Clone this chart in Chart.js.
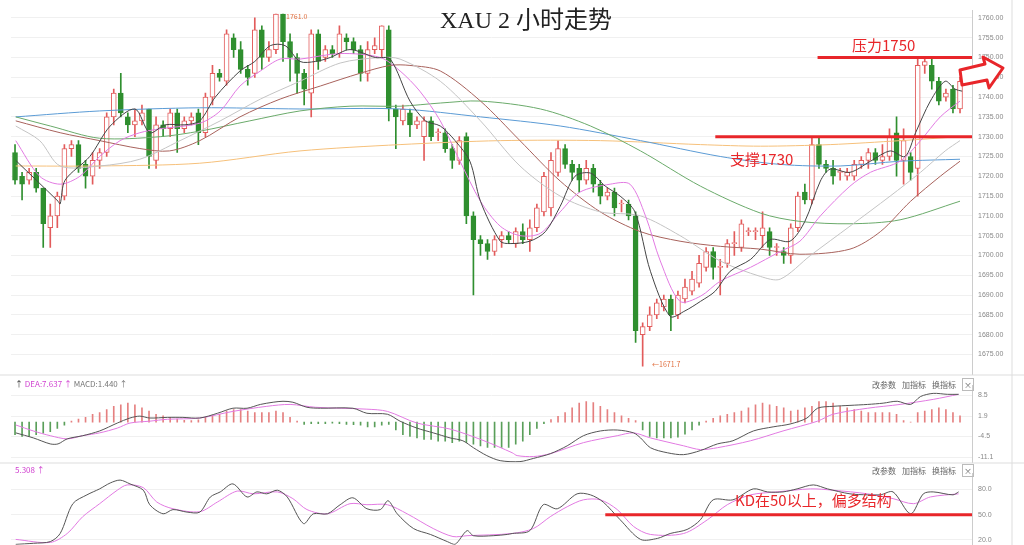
<!DOCTYPE html>
<html>
<head>
<meta charset="utf-8">
<script src="https://cdn.jsdelivr.net/npm/chart.js@4/dist/chart.umd.min.js"></script>
<style>
  body { margin: 0; background: #fff; width: 1024px; height: 545px; overflow: hidden; position: relative; font-family: "Noto Sans CJK SC", "Noto Sans", sans-serif; }
  canvas { position: absolute; left: 0; }
  .t { position: absolute; white-space: nowrap; }
  .red { color: #e8262a; font-size: 15px; }
  .small { font-size: 8px; color: #777; }
  .btn { position: absolute; font-size: 8px; color: #666; left: 872px; }
  .btn span { margin-right: 6px; }
  .btn b { font-weight: normal; border: 1px solid #bbb; padding: 0 1px; }
</style>
</head>
<body>
<canvas id="mainChart" width="1024" height="385" style="top:0"></canvas>
<canvas id="macdChart" width="1024" height="98" style="top:375px"></canvas>
<canvas id="kdChart" width="1024" height="92" style="top:463px"></canvas>

<div class="t" style="left:440px;top:0px;font-size:24px;color:#222;font-family:'Liberation Serif','Noto Sans CJK SC',serif;">XAU 2 小时走势</div>
<div class="t red" style="left:852px;top:34px;">压力1750</div>
<div class="t red" style="left:730px;top:148px;">支撑1730</div>
<div class="t red" style="left:735px;top:489px;">KD在50以上，偏多结构</div>
<div class="t" style="left:286px;top:11px;font-size:7px;color:#e07040;">1761.0</div>
<div class="t" style="left:652px;top:359px;font-size:7px;color:#e07040;">←1671.7</div>
<div class="t small" style="left:15px;top:378px;"><span style="color:#333">↑</span> <span style="color:#d040d0">DEA:7.637</span> <span style="color:#d040d0">↑</span> MACD:1.440 ↑</div>
<div class="t small" style="left:15px;top:464px;color:#d040d0;">5.308 ↑</div>
<div class="btn" style="top:379px;"><span>改参数</span><span>加指标</span><span>换指标</span><b>×</b></div>
<div class="btn" style="top:465px;"><span>改参数</span><span>加指标</span><span>换指标</span><b>×</b></div>
<svg style="position:absolute;left:0;top:0" width="1024" height="545">
  <line x1="0" y1="375" x2="1024" y2="375" stroke="#ddd"/>
  <line x1="0" y1="463" x2="1024" y2="463" stroke="#ddd"/>
  <line x1="1012" y1="0" x2="1012" y2="545" stroke="#ddd"/>
  <polygon points="960,70 985,64 983,57 1003,68 989,88 987,80 962,85" fill="#fff" stroke="#e8262a" stroke-width="3" stroke-linejoin="round"/>
</svg>

<script>
// K线数据
const opens  = [1726,1720,1719,1721,1717,1707,1710,1715,1727,1728,1723,1720,1724,1726,1735,1741,1735,1733,1734,1737,1724,1733,1732,1736,1732,1734,1736,1731,1740,1746,1744,1755,1752,1747,1746,1757,1750,1752,1761,1754,1750,1746,1741,1756,1750,1752,1751,1755,1754,1752,1746,1752,1752,1757,1737,1734,1736,1733,1730,1734,1731,1731,1727,1724,1730,1710,1704,1703,1701,1704,1705,1703,1706,1704,1707,1711,1712,1721,1727,1723,1722,1719,1722,1718,1715,1716,1713,1713,1710,1680,1682,1685,1687,1689,1685,1689,1691,1693,1697,1701,1697,1698,1703,1702,1706,1706,1705,1706,1702,1701,1700,1707,1716,1714,1728,1723,1722,1721,1720,1720,1723,1724,1726,1724,1725,1731,1724,1725,1722,1748,1748,1744,1740,1742,1737];
const closes = [1719,1718,1721,1717,1708,1710,1715,1727,1728,1722,1720,1724,1726,1735,1741,1736,1733,1734,1736,1725,1733,1732,1736,1732,1734,1735,1731,1740,1746,1745,1756,1752,1747,1745,1757,1750,1752,1761,1754,1750,1746,1742,1756,1749,1752,1751,1756,1754,1752,1746,1752,1753,1758,1737,1735,1737,1733,1734,1734,1730,1731,1727,1724,1729,1710,1704,1703,1701,1704,1705,1704,1706,1704,1707,1712,1720,1724,1727,1723,1721,1719,1722,1718,1715,1716,1712,1713,1710,1681,1682,1685,1688,1689,1685,1690,1692,1694,1698,1701,1697,1697,1703,1703,1708,1706,1706,1707,1702,1702,1700,1707,1715,1714,1728,1723,1722,1720,1721,1721,1723,1724,1726,1724,1725,1730,1724,1729,1721,1748,1749,1744,1739,1741,1737,1744];
const highs  = [1728,1721,1722,1722,1717,1713,1716,1728,1729,1729,1724,1726,1727,1736,1742,1746,1736,1737,1738,1737,1735,1734,1737,1737,1735,1736,1737,1741,1748,1747,1757,1756,1754,1748,1760,1758,1754,1761,1761,1756,1751,1747,1757,1757,1753,1753,1758,1756,1755,1753,1754,1755,1758,1758,1738,1738,1737,1735,1735,1735,1732,1732,1728,1730,1731,1711,1705,1704,1705,1706,1706,1707,1708,1709,1713,1721,1726,1729,1728,1724,1723,1724,1723,1719,1717,1717,1714,1714,1711,1683,1687,1689,1690,1690,1691,1694,1696,1700,1702,1702,1699,1704,1706,1709,1707,1707,1711,1707,1703,1702,1708,1716,1718,1730,1730,1724,1724,1722,1722,1724,1725,1727,1727,1728,1732,1735,1732,1726,1750,1750,1750,1745,1742,1743,1745];
const lows   = [1718,1714,1718,1716,1702,1702,1707,1714,1725,1721,1717,1718,1722,1725,1733,1735,1731,1730,1733,1722,1722,1730,1730,1726,1731,1733,1728,1730,1738,1744,1743,1750,1746,1743,1745,1747,1749,1751,1749,1744,1741,1738,1735,1747,1749,1750,1750,1752,1751,1744,1744,1751,1750,1734,1727,1733,1730,1732,1724,1729,1729,1726,1722,1723,1708,1690,1700,1699,1700,1702,1703,1702,1703,1701,1706,1710,1710,1720,1722,1719,1716,1718,1716,1713,1714,1710,1711,1709,1678,1672,1681,1684,1686,1681,1684,1688,1690,1692,1696,1694,1690,1697,1700,1701,1705,1704,1702,1700,1700,1698,1698,1706,1713,1713,1722,1721,1718,1719,1719,1719,1722,1722,1723,1723,1724,1720,1718,1719,1715,1746,1742,1738,1739,1736,1736];
const priceTicks = [1675,1680,1685,1690,1695,1700,1705,1710,1715,1720,1725,1730,1735,1740,1745,1750,1755,1760];

// 均线 [序号, 价格]
const ma5 = [[0.1,1724],[6.1,1713.7],[6.4,1713],[7.1,1719],[10.6,1725],[13.5,1732.7],[17,1737],[19.1,1731],[21.3,1733],[24.1,1733],[26.2,1734],[28.4,1740],[31.9,1746.6],[34,1749],[36.2,1753],[38.3,1753],[40.4,1749],[42.6,1749],[44.7,1750],[47.5,1752],[51.1,1750],[53.2,1749.6],[56,1739],[58.2,1734],[60.3,1732.7],[62.4,1729],[64.5,1723.8],[66,1713.7],[68.8,1703.6],[70.2,1703],[73,1703.6],[75.2,1706],[77.3,1712.4],[79.4,1720],[81.6,1720.8],[83.7,1717.5],[85.8,1715],[87.9,1711],[90.1,1696],[92.9,1684.6],[95,1686],[97.2,1688.4],[99.3,1691],[101.4,1696],[104.3,1699],[107.1,1704],[109.9,1703.6],[112,1708.6],[114.2,1718.8],[115.6,1721.8],[118.4,1721],[121.3,1723.8],[124.1,1726.4],[126.2,1725],[127.7,1731],[129.8,1739],[131.9,1744],[133.3,1742],[134.3,1741.5]];
const ma10 = [[0.1,1729],[3.5,1720],[6.4,1718],[9.2,1720],[12,1725],[14.9,1729],[17.7,1731],[20.6,1732],[26.2,1733.4],[29.1,1736.5],[31.9,1742.8],[34.8,1746.6],[37.6,1749.6],[40.4,1749.6],[46.1,1751],[51.8,1750],[54.6,1746.6],[57.4,1741.5],[60.3,1734],[63.1,1723.8],[66,1713.7],[68.8,1707.4],[71.6,1705],[74.5,1705.6],[77.3,1711],[80.1,1716],[84.4,1718],[87.2,1718],[89.4,1710],[91.5,1698.6],[94.3,1688.4],[97.2,1689.7],[100,1693.5],[104.3,1697],[108.5,1701],[111.3,1703.6],[114.2,1710],[118.4,1717.5],[121.3,1721],[125.5,1723.8],[128.4,1729],[131.2,1735],[134,1739]];
const ma20 = [[0.1,1732.7],[3.5,1729],[6.4,1722.6],[12,1722.6],[17.7,1724.3],[23.4,1729],[29.1,1734],[34.8,1739.5],[40.4,1744],[46.1,1748.6],[51.8,1750],[54.6,1749.6],[60.3,1744],[66,1734],[71.6,1722.6],[77.3,1715],[83,1711],[88.7,1710],[94.3,1705],[100,1698.6],[105.7,1694.7],[108.5,1694],[112.8,1700],[118.4,1707.4],[124.1,1715],[128.4,1721],[131.9,1726.4],[134,1729]];
const ma30 = [[0.1,1734],[6.4,1731],[12,1729],[17.7,1727],[21.9,1726.4],[26.2,1729],[31.9,1735],[37.6,1739.5],[43.3,1742.8],[48.9,1746],[53.2,1748],[56,1748],[60.3,1746.6],[66,1739],[71.6,1729],[77.3,1718.8],[83,1711],[88.7,1706],[94.3,1703.6],[100,1702.3],[105.7,1701.6],[111.3,1700.3],[118.4,1701.6],[122.7,1706],[127,1713.7],[131.2,1720],[134,1723.8]];
const ma60 = [[0.1,1735],[5,1732.7],[12,1729.6],[20.6,1730],[26.2,1731.4],[33.3,1734],[40.4,1736.5],[47.5,1737.7],[54.6,1737.7],[60.3,1738.5],[66,1739],[74.5,1737],[81.6,1732.7],[88.7,1726.4],[97.2,1717.5],[105.7,1710.7],[111.3,1708.6],[118.4,1708],[125.5,1709],[134,1713.7]];
const ma120 = [[0.1,1735],[12,1736.5],[26.2,1737.3],[40.4,1737],[54.6,1737],[66,1735],[77.3,1732.7],[88.7,1729],[100,1725],[108.5,1723],[117,1722.6],[125.5,1723.8],[134,1724.3]];
const ma250 = [[0.1,1722.6],[12,1722.6],[26.2,1723.3],[40.4,1726.4],[54.6,1728],[68.8,1729],[83,1729],[97.2,1728],[105.7,1727.6],[115.6,1728],[125.5,1729],[134,1730]];
const supportLine = [[99.3,1730],[135.7,1730]];
const pressureLine = [[113.8,1750],[135.7,1750]];

// MACD
const macdHist = [-4,-4.5,-4.5,-4,-3.5,-3,-2,-1,0.3,1,1.5,2.5,3,4,5,5.5,6,5.5,4.5,3.5,2.5,2,1.5,1,0.6,0.5,0.7,1.5,2,2.5,3.5,4,4,3.5,3,3,3,3.5,3,1.5,0.3,-0.7,-0.5,-0.5,-0.5,-0.3,-0.5,-0.7,-0.8,-1,-1.5,-1.5,-1,-0.7,-2.5,-4,-4.5,-5,-5.5,-5.5,-6,-6,-6.5,-6,-6.5,-7,-7.5,-8,-8,-8,-8,-7,-6,-4,-2,-0.5,0.8,1.8,3,4.5,6,6.5,6.2,5,4,3,2,1.2,0.5,-2.5,-4.5,-5,-5,-5,-4.8,-3.8,-2.5,-1,0.3,1.2,2,2.5,3,3.5,4.5,5.5,6,5.5,5,4.5,3.5,3.8,4.5,5,6.5,6.5,6,5,4.5,4,3.5,3,3,3,3,2.5,0.5,0,3,3.5,4,4.5,4,3,2];
const difLine = [[0.1,-3.4],[2.6,-5],[5,-6.9],[6.1,-6.9],[7.4,-5.3],[9.6,-4.3],[12,-2.8],[14.5,-0.3],[16.3,1.3],[17.7,1.9],[19.1,1.3],[21.6,1.5],[23.8,1.5],[26.2,1.3],[28.7,2.8],[30.9,4.4],[32.9,4.4],[34.8,5.6],[36.6,6.3],[38,6.6],[39.4,6.3],[41.4,4.7],[43.3,4.4],[47.9,4.4],[49.9,2.8],[52.8,2.5],[54.6,0.3],[57,-1.9],[59.3,-3.4],[61.7,-5],[63.5,-5.9],[65,-8.1],[66.9,-10.6],[68.8,-12.2],[71.6,-12.5],[73.5,-11.5],[75.9,-10],[78.3,-7.5],[80.6,-4.3],[83,-2.8],[85.4,-2.5],[87.7,-3.4],[88.7,-5],[90.1,-8.1],[92.5,-9.7],[94.8,-10.3],[97.2,-9],[99.6,-6.9],[101.8,-5.9],[104.7,-2.8],[107.5,-1.5],[109.9,-0.6],[112.3,1.3],[113.8,4.4],[116,5],[118.4,5.3],[120.9,5.6],[123.1,6],[125.1,6.6],[127,5.6],[128.4,8.1],[130.2,9.1],[132.2,8.8],[133.8,8.8]];
const deaLine = [[0.1,-0.9],[2.6,-2.8],[5,-4.3],[7.4,-5.3],[9.6,-4.3],[12,-3.4],[14.5,-1.9],[16.3,-0.3],[19.1,0.3],[21.6,0.9],[26.2,1.3],[30.9,3.4],[35.7,5],[39,5.6],[42.6,4.7],[49.9,4.1],[52.8,3.4],[57,-0.3],[61.7,-2.2],[66.5,-5.9],[70.5,-9.7],[71.2,-10.6],[73.5,-10.9],[75.9,-10],[80.6,-6.5],[85.4,-4.3],[87.7,-3.4],[90.1,-5],[94.8,-7.5],[97.2,-8.7],[99.6,-8.1],[104.3,-5.9],[108.9,-2.8],[113.8,0.3],[116,2.5],[120.9,4.4],[125.5,5.6],[130.2,7.2],[133.8,8.8]];
const macdTicks = [-11.1,-4.5,1.9,8.5];

// KD
const kLine = [[0.1,14.7],[2.6,16],[5,18],[6.4,27.6],[8.2,63],[10.2,73.5],[12,80.6],[13.5,87.6],[14.9,91],[16.3,86.5],[18.2,79],[19.1,61.8],[21,51],[22.4,56],[24.4,53],[26.2,53],[27.7,71],[29.1,77],[30.9,86.5],[32.9,71],[34.3,77],[35.7,74.7],[37.2,79],[38.6,71],[40.9,39.4],[42.3,51],[44.3,51],[46.1,61.8],[47.9,70],[49.9,57],[51.8,56],[52.9,66.5],[54.2,51],[56.5,33.5],[58.9,26.5],[61.3,18],[62.4,14.7],[64.1,31],[65,25],[67.8,25],[69.8,26.5],[70.5,27.6],[73,31],[74.9,61.8],[76.9,57],[79.7,74.7],[81.6,73.5],[83.4,65],[85.8,44],[88.7,20.6],[91.1,21.8],[92.9,27.6],[95.3,32.4],[97.2,44],[99,67.6],[101.8,67.6],[104.7,80.6],[106.7,77],[108.9,77],[110.9,80.6],[113.2,85.3],[115.2,80.6],[118.4,74.7],[120.9,73.5],[122.7,73.5],[124.5,77],[127,51],[128.8,74.7],[130.2,77],[133,73.5],[133.8,77]];
const dLine = [[0.1,20.6],[5,17],[7.4,27.6],[9.6,47.6],[12,63],[14.5,79],[15.9,85.3],[18.2,82],[20.1,65],[22.4,57],[26.2,53.5],[28.7,65],[31.5,78],[33.8,74.7],[37.2,77],[39.4,69],[41.4,56],[44.3,51],[47.5,63],[49.9,61.8],[52.8,61.8],[55.6,51],[59.3,33.5],[62.1,24],[64.1,25],[70.5,27.6],[73.5,33.5],[75.9,47.6],[78.3,59.4],[80.6,67.6],[83,67.6],[85.4,56],[87.7,36],[90.1,26.5],[94.8,27.6],[98.2,44],[101,61.8],[104.3,73.5],[108.1,77],[112.8,80.6],[116,79],[120.9,74.7],[124.5,69],[127.4,63],[129.8,71],[133.8,74.7]];
const kdLine50 = [[83.7,50],[135.7,50]];
const kdTicks = [20,50,80];

const X_MIN = -0.57, X_MAX = 135.7;
const UP = '#e25b5b', DOWN = '#2f8f2f';

function pts(arr) { return arr.map(p => ({ x: p[0], y: p[1] })); }
function lineDs(arr, color, width) {
  return { type: 'line', data: pts(arr), borderColor: color, borderWidth: width || 1, pointRadius: 0, tension: 0.3, order: 1 };
}
function yAxis(min, max, ticks, digits) {
  return {
    position: 'right', min: min, max: max,
    afterFit: s => { s.width = 52; },
    afterBuildTicks: s => { s.ticks = ticks.map(v => ({ value: v })); },
    grid: { color: '#f0f0f0', drawTicks: false },
    border: { display: true, color: '#ccc' },
    ticks: { padding: 6, color: '#888', font: { size: 7 }, callback: v => v.toFixed(digits) }
  };
}
const xAxis = { type: 'linear', min: X_MIN, max: X_MAX, offset: false, display: false };
const base = { responsive: false, animation: false, plugins: { legend: { display: false }, tooltip: { enabled: false } } };

// 主图
const isUp = opens.map((o, i) => closes[i] >= o);
new Chart(document.getElementById('mainChart'), {
  type: 'bar',
  data: {
    datasets: [
      lineDs(supportLine, '#e8262a', 3),
      lineDs(pressureLine, '#e8262a', 3),
      lineDs(ma5, '#444'),
      lineDs(ma10, '#e27ae2'),
      lineDs(ma20, '#c4c4c4'),
      lineDs(ma30, '#a8625c'),
      lineDs(ma60, '#6aaa6a'),
      lineDs(ma120, '#5b9bd5'),
      lineDs(ma250, '#f6c07a'),
      {
        data: opens.map((o, i) => ({ x: i, y: [o, closes[i]] })),
        backgroundColor: isUp.map(u => u ? '#fff' : DOWN),
        borderColor: isUp.map(u => u ? UP : DOWN),
        borderWidth: 1, borderSkipped: false, barThickness: 5, minBarLength: 1, grouped: false, order: 2
      },
      {
        data: lows.map((l, i) => ({ x: i, y: [l, highs[i]] })),
        backgroundColor: isUp.map(u => u ? UP : DOWN),
        barThickness: 1, grouped: false, order: 3
      }
    ]
  },
  options: Object.assign({}, base, {
    layout: { padding: { left: 11, top: 5, bottom: 5, right: 0 } },
    scales: { x: xAxis, y: yAxis(1669.85, 1761.95, priceTicks, 2) }
  })
});

// MACD
new Chart(document.getElementById('macdChart'), {
  type: 'bar',
  data: {
    datasets: [
      lineDs(difLine, '#555'),
      lineDs(deaLine, '#e27ae2'),
      {
        data: macdHist.map((v, i) => ({ x: i, y: v })),
        backgroundColor: macdHist.map(v => v >= 0 ? '#e58080' : '#5a9f5a'),
        barThickness: 1, order: 3
      }
    ]
  },
  options: Object.assign({}, base, {
    layout: { padding: { left: 11, top: 10, bottom: 3, right: 0 } },
    scales: { x: xAxis, y: yAxis(-12.88, 11.69, macdTicks, 1) }
  })
});

// KD
new Chart(document.getElementById('kdChart'), {
  type: 'line',
  data: {
    datasets: [
      lineDs(kdLine50, '#e8262a', 3),
      lineDs(kLine, '#555'),
      lineDs(dLine, '#e27ae2')
    ]
  },
  options: Object.assign({}, base, {
    layout: { padding: { left: 11, top: 8, bottom: 0, right: 0 } },
    scales: { x: xAxis, y: yAxis(14.2, 99.2, kdTicks, 1) }
  })
});
</script>
</body>
</html>
